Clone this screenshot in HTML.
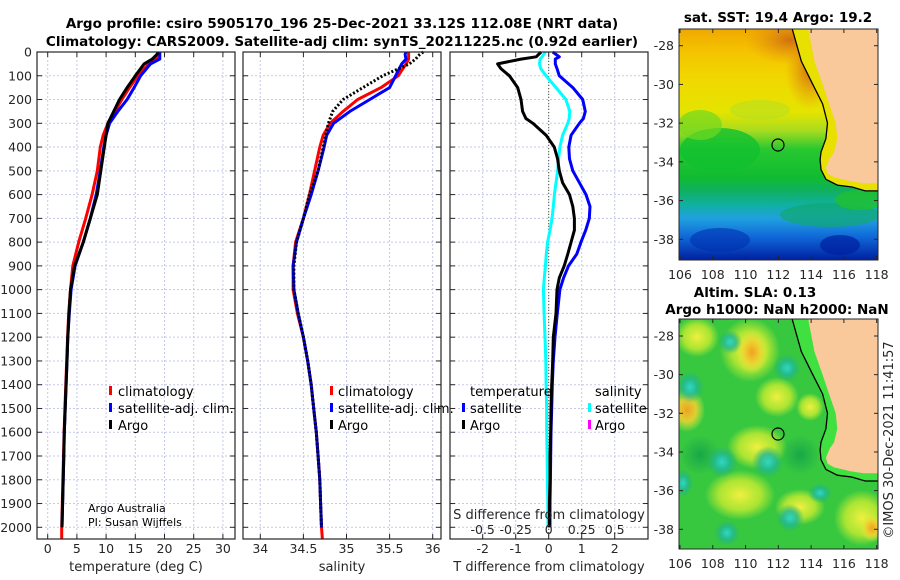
<!DOCTYPE html>
<html><head><meta charset="utf-8"><style>
html,body{margin:0;padding:0;background:#fff;}
svg{display:block;font-family:"DejaVu Sans","Liberation Sans",sans-serif;}
.tk{font-size:12.5px;fill:#262626;}
.tt{font-size:13.5px;font-weight:bold;fill:#000;}
.lg{font-size:13px;fill:#000;}
</style></head><body>
<svg id="fig" width="900" height="580" viewBox="0 0 900 580" xmlns="http://www.w3.org/2000/svg">
<defs>
<linearGradient id="sstg" x1="0" y1="0" x2="0" y2="1">
<stop offset="0" stop-color="#f0a800"/><stop offset="0.1" stop-color="#f4c400"/><stop offset="0.22" stop-color="#f0d800"/>
<stop offset="0.36" stop-color="#e4e400"/><stop offset="0.44" stop-color="#a8dc20"/><stop offset="0.52" stop-color="#28c830"/>
<stop offset="0.64" stop-color="#10bc30"/><stop offset="0.7" stop-color="#10b060"/><stop offset="0.76" stop-color="#10b0a0"/>
<stop offset="0.82" stop-color="#20a0e0"/><stop offset="0.9" stop-color="#1068d8"/><stop offset="1" stop-color="#0020a0"/>
</linearGradient>
<radialGradient id="ylw"><stop offset="0" stop-color="#f0f040"/><stop offset="0.6" stop-color="#c8ec30" stop-opacity="0.8"/><stop offset="1" stop-color="#c8ec30" stop-opacity="0"/></radialGradient>
<radialGradient id="org"><stop offset="0" stop-color="#f0a020"/><stop offset="0.5" stop-color="#f0d030" stop-opacity="0.9"/><stop offset="1" stop-color="#e8f040" stop-opacity="0"/></radialGradient>
<radialGradient id="cyn"><stop offset="0" stop-color="#30d8c8"/><stop offset="0.5" stop-color="#20b898" stop-opacity="0.8"/><stop offset="1" stop-color="#20b070" stop-opacity="0"/></radialGradient>
<radialGradient id="dgr"><stop offset="0" stop-color="#18a848"/><stop offset="1" stop-color="#18a848" stop-opacity="0"/></radialGradient>
<radialGradient id="brn"><stop offset="0" stop-color="#d07010"/><stop offset="1" stop-color="#e89010" stop-opacity="0"/></radialGradient>
<clipPath id="c1"><rect x="679" y="29" width="199" height="231"/></clipPath>
<clipPath id="c2"><rect x="679" y="319" width="199" height="230"/></clipPath>
</defs>
<text class="tt" x="342" y="28" text-anchor="middle">Argo profile: csiro 5905170_196 25-Dec-2021 33.12S 112.08E (NRT data)</text>
<text class="tt" x="342" y="46" text-anchor="middle">Climatology: CARS2009. Satellite-adj clim: synTS_20211225.nc (0.92d earlier)</text>
<g id="grid"></g>
<g id="marks"></g>
<g id="axes"></g>

<g>
<rect x="109" y="386" width="3" height="9" fill="#f00"/><text class="lg" x="118" y="396">climatology</text>
<rect x="109" y="403" width="3" height="9" fill="#00f"/><text class="lg" x="118" y="413">satellite-adj. clim.</text>
<rect x="109" y="420" width="3" height="9" fill="#000"/><text class="lg" x="118" y="430">Argo</text>
</g>
<g>
<rect x="330" y="386" width="3" height="9" fill="#f00"/><text class="lg" x="338" y="396">climatology</text>
<rect x="330" y="403" width="3" height="9" fill="#00f"/><text class="lg" x="338" y="413">satellite-adj. clim.</text>
<rect x="330" y="420" width="3" height="9" fill="#000"/><text class="lg" x="338" y="430">Argo</text>
</g>
<g>
<text class="lg" x="470" y="396">temperature</text>
<rect x="462" y="403" width="3" height="9" fill="#00f"/><text class="lg" x="470" y="413">satellite</text>
<rect x="462" y="420" width="3" height="9" fill="#000"/><text class="lg" x="470" y="430">Argo</text>
<text class="lg" x="595" y="396">salinity</text>
<rect x="588" y="403" width="3" height="9" fill="#0ff"/><text class="lg" x="595" y="413">satellite</text>
<rect x="588" y="420" width="3" height="9" fill="#f0f"/><text class="lg" x="595" y="430">Argo</text>
</g>
<text x="88" y="512" style="font-size:11px">Argo Australia</text>
<text x="88" y="526" style="font-size:11px">PI: Susan Wijffels</text>
<text class="tk" x="136" y="571" text-anchor="middle" style="font-size:13px">temperature (deg C)</text>
<text class="tk" x="342" y="571" text-anchor="middle" style="font-size:13px">salinity</text>
<text class="tk" x="549" y="571" text-anchor="middle" style="font-size:13px">T difference from climatology</text>
<text class="tk" x="549" y="519" text-anchor="middle" style="font-size:13px">S difference from climatology</text>

<g>
<text class="tt" x="778" y="22" text-anchor="middle">sat. SST: 19.4 Argo: 19.2</text>
<g clip-path="url(#c1)">
<rect x="679" y="29" width="199" height="231" fill="url(#sstg)"/>
<ellipse cx="790" cy="40" rx="45" ry="25" fill="url(#brn)"/>
<ellipse cx="810" cy="70" rx="25" ry="40" fill="url(#brn)"/>
<ellipse cx="720" cy="150" rx="40" ry="22" fill="#10c030" opacity="0.8"/>
<ellipse cx="700" cy="125" rx="22" ry="15" fill="#70d820" opacity="0.7"/>
<ellipse cx="760" cy="110" rx="30" ry="10" fill="#b8e020" opacity="0.6"/>
<ellipse cx="830" cy="215" rx="50" ry="12" fill="#10a870" opacity="0.7"/>
<ellipse cx="860" cy="200" rx="25" ry="10" fill="#20c030" opacity="0.8"/>
<ellipse cx="840" cy="245" rx="20" ry="10" fill="#0020a0" opacity="0.7"/>
<ellipse cx="720" cy="240" rx="30" ry="12" fill="#0030b0" opacity="0.6"/>
<path id="shelf1" fill="#e8e000" stroke="none"/>
<path id="land1" fill="#f9c89b"/>
<path id="cont1" fill="none" stroke="#000" stroke-width="1.3"/>
</g>
<circle cx="778" cy="145" r="6" fill="none" stroke="#000" stroke-width="1.2"/>
<g id="mapax1"></g>
</g>

<g>
<text class="tt" x="755" y="297" text-anchor="middle">Altim. SLA: 0.13</text>
<text class="tt" x="777" y="314" text-anchor="middle">Argo h1000: NaN h2000: NaN</text>
<g clip-path="url(#c2)">
<rect x="679" y="319" width="199" height="230" fill="#38c840"/>
<ellipse cx="697" cy="337" rx="22" ry="20" fill="url(#ylw)"/>
<ellipse cx="750" cy="350" rx="30" ry="32" fill="url(#ylw)"/>
<ellipse cx="752" cy="352" rx="16" ry="22" fill="url(#org)"/>
<ellipse cx="687" cy="410" rx="18" ry="22" fill="url(#org)"/>
<ellipse cx="777" cy="397" rx="22" ry="20" fill="url(#ylw)"/>
<ellipse cx="757" cy="447" rx="30" ry="22" fill="url(#ylw)"/>
<ellipse cx="810" cy="407" rx="14" ry="14" fill="url(#ylw)"/>
<ellipse cx="740" cy="495" rx="35" ry="25" fill="url(#ylw)"/>
<ellipse cx="800" cy="507" rx="25" ry="18" fill="url(#ylw)"/>
<ellipse cx="862" cy="518" rx="28" ry="28" fill="url(#ylw)"/>
<ellipse cx="872" cy="528" rx="12" ry="14" fill="url(#org)"/>
<ellipse cx="700" cy="455" rx="20" ry="20" fill="url(#dgr)"/>
<ellipse cx="800" cy="455" rx="20" ry="20" fill="url(#dgr)"/>
<ellipse cx="722" cy="462" rx="16" ry="16" fill="url(#cyn)"/>
<ellipse cx="768" cy="462" rx="16" ry="16" fill="url(#cyn)"/>
<ellipse cx="787" cy="368" rx="14" ry="14" fill="url(#cyn)"/>
<ellipse cx="690" cy="387" rx="14" ry="16" fill="url(#cyn)"/>
<ellipse cx="730" cy="342" rx="12" ry="12" fill="url(#cyn)"/>
<ellipse cx="683" cy="483" rx="10" ry="14" fill="url(#cyn)"/>
<ellipse cx="790" cy="518" rx="14" ry="14" fill="url(#cyn)"/>
<ellipse cx="727" cy="533" rx="13" ry="13" fill="url(#cyn)"/>
<ellipse cx="820" cy="493" rx="12" ry="10" fill="url(#cyn)"/>
<path id="shelf2" fill="#40e040"/>
<path id="land2" fill="#f9c89b"/>
<path id="cont2" fill="none" stroke="#000" stroke-width="1.3"/>
</g>
<circle cx="778" cy="434" r="6" fill="none" stroke="#000" stroke-width="1.2"/>
<g id="mapax2"></g>
</g>
<text class="tk" transform="translate(893,440) rotate(-90)" text-anchor="middle" style="font-size:13px">©IMOS 30-Dec-2021 11:41:57</text>

<script>
const depths = [0,10,30,50,100,150,200,250,300,350,400,500,600,700,800,900,1000,1100,1200,1300,1400,1500,1600,1700,1800,1900,2000,2050];
const tempClim = [19.0,19.0,18.5,17.3,15.4,14.0,12.7,11.5,10.3,9.5,9.0,8.5,7.6,6.5,5.3,4.3,3.9,3.6,3.4,3.25,3.1,2.95,2.8,2.7,2.6,2.5,2.4,2.4];
const tempSat = [19.2,19.2,19.2,17.6,15.9,14.8,13.6,12.0,10.6,10.0,9.6,9.0,8.3,7.3,6.1,4.7,4.0,3.7,3.45,3.3,3.15,3.0,2.85,2.75,2.65,2.55,2.45,null];
const tempArgo = [18.9,18.7,17.9,16.5,15.0,13.6,12.3,11.3,10.3,10.0,9.7,9.1,8.5,7.3,6.1,4.6,3.9,3.65,3.45,3.3,3.15,3.0,2.85,2.75,2.65,2.55,2.45,null];
const salClim = [35.72,35.72,35.72,35.69,35.60,35.40,35.13,34.96,34.81,34.73,34.69,34.63,34.57,34.50,34.41,34.38,34.38,34.43,34.50,34.55,34.59,34.62,34.65,34.67,34.69,34.70,34.71,34.72];
const salSat = [35.69,35.68,35.69,35.64,35.57,35.50,35.27,35.04,34.85,34.77,34.74,34.67,34.59,34.50,34.42,34.38,34.39,34.44,34.50,34.55,34.59,34.62,34.65,34.67,34.69,34.70,34.71,null];
const salArgo = [35.89,35.85,35.80,35.73,35.42,35.19,34.96,34.84,34.79,34.76,34.73,34.67,34.57,34.50,34.42,34.39,34.39,34.44,34.50,34.55,34.59,34.62,34.65,34.67,34.69,34.70,34.71,null];
const diffDepths = [0,20,30,50,70,100,150,200,250,280,300,350,400,450,500,550,600,650,700,750,800,850,900,950,1000,1100,1200,1300,1400,1500,1600,1700,1800,1900,2000];
const tDiffArgo = [-0.23,-0.38,-0.84,-1.55,-1.45,-1.19,-0.94,-0.84,-0.79,-0.69,-0.48,-0.08,0.17,0.27,0.32,0.42,0.63,0.73,0.78,0.78,0.68,0.58,0.47,0.32,0.25,0.22,0.14,0.12,0.09,0.07,0.06,0.04,0.04,0.02,0.02];
const tDiffSat = [0.12,0.32,0.2,0.2,0.25,0.32,0.73,1.03,1.11,1.05,0.93,0.68,0.61,0.63,0.73,0.93,1.13,1.25,1.23,1.12,0.98,0.85,0.6,0.45,0.34,0.26,0.19,0.14,0.11,0.09,0.07,0.06,0.05,0.04,0.04];
const sDiffSat = [-0.025,-0.05,-0.065,-0.07,-0.06,-0.02,0.055,0.13,0.16,0.155,0.145,0.105,0.085,0.075,0.068,0.055,0.043,0.035,0.025,0.01,-0.008,-0.018,-0.025,-0.033,-0.04,-0.035,-0.028,-0.022,-0.02,-0.016,-0.015,-0.012,-0.01,-0.007,-0.005];
const depthTicks = [0,100,200,300,400,500,600,700,800,900,1000,1100,1200,1300,1400,1500,1600,1700,1800,1900,2000];
const tempTicks = [0,5,10,15,20,25,30];
const salTicks = [34,34.5,35,35.5,36];
const salTickLabels = ["34","34.5","35","35.5","36"];
const tDiffTicks = [-2,-1,0,1,2];
const sDiffTicks = [-0.5,-0.25,0,0.25,0.5];
const sDiffTickLabels = ["-0.5","-0.25","0","0.25","0.5"];
const lonTicks = [106,108,110,112,114,116,118];
const latTicks = [-28,-30,-32,-34,-36,-38];

const NS="http://www.w3.org/2000/svg";
const Y0=52, Y1=539;
const yD = d => 52 + d*0.23765;
const xT = t => 47.7 + t*5.84;
const xS = s => 260.3 + (s-34)*86.2;
const xTD = t => 548.7 + t*33;
const xSD = s => 548.7 + s*132;
const panels=[[37,235],[243,441],[450,648]];
function el(tag,attrs,parent){const e=document.createElementNS(NS,tag);for(const k in attrs)e.setAttribute(k,attrs[k]);parent.appendChild(e);return e;}
const grid=document.getElementById('grid'), marks=document.getElementById('marks'), axes=document.getElementById('axes');

function vgrid(xs){xs.forEach(x=>{const l=el('line',{x1:x,x2:x,y1:Y0,y2:Y1,stroke:'#c4c8e8','stroke-width':1,'stroke-dasharray':'2,2'},grid);


el('line',{x1:x,x2:x,y1:Y1,y2:Y1-5,stroke:'#262626'},axes);el('line',{x1:x,x2:x,y1:Y0,y2:Y0+5,stroke:'#262626'},axes);});}
panels.forEach(([a,b])=>{depthTicks.forEach(d=>{const y=yD(d);const l=el('line',{x1:a,x2:b,y1:y,y2:y,stroke:'#c4c8e8','stroke-width':1,'stroke-dasharray':'2,2'},grid);


el('line',{x1:a,x2:a+5,y1:y,y2:y,stroke:'#262626'},axes);el('line',{x1:b,x2:b-5,y1:y,y2:y,stroke:'#262626'},axes);});
const r=el('rect',{x:a,y:Y0,width:b-a,height:Y1-Y0,fill:'none',stroke:'#262626','stroke-width':1.2},axes);

});
vgrid(tempTicks.map(xT)); vgrid(salTicks.map(xS)); vgrid(tDiffTicks.map(xTD));
depthTicks.forEach(d=>{const t=el('text',{x:32,y:yD(d)+4.5,'text-anchor':'end',class:'tk'},axes);t.textContent=d;

});
tempTicks.forEach(v=>{const t=el('text',{x:xT(v),y:553,'text-anchor':'middle',class:'tk'},axes);t.textContent=v;

});
salTicks.forEach((v,i)=>{const t=el('text',{x:xS(v),y:553,'text-anchor':'middle',class:'tk'},axes);t.textContent=salTickLabels[i];

});
tDiffTicks.forEach(v=>{const t=el('text',{x:xTD(v),y:553,'text-anchor':'middle',class:'tk'},axes);t.textContent=v;

});
sDiffTicks.forEach((v,i)=>{const t=el('text',{x:xSD(v),y:534,'text-anchor':'middle',class:'tk'},axes);t.textContent=sDiffTickLabels[i];

});
const z=el('line',{x1:xTD(0),x2:xTD(0),y1:Y0,y2:Y1,stroke:'#4a5a30','stroke-width':1,'stroke-dasharray':'1,2'},grid);



function line(vals,dep,xf,color,name,dash){let d='';let pen=false;vals.forEach((v,i)=>{if(v===null){pen=false;return;}d+=(pen?'L':'M')+xf(v).toFixed(1)+','+yD(dep[i]).toFixed(1);pen=true;});
const p=el('path',{d:d,fill:'none',stroke:color,'stroke-width':3,'stroke-linejoin':'round'},marks);if(dash)p.setAttribute('stroke-dasharray',dash);

}
line(tempClim,depths,xT,'#f00','temperature-climatology-line');
line(tempSat,depths,xT,'#00f','temperature-satellite-line');
line(tempArgo,depths,xT,'#000','temperature-argo-line');
line(salClim,depths,xS,'#f00','salinity-climatology-line');
line(salSat,depths,xS,'#00f','salinity-satellite-line');
line(salArgo,depths,xS,'#000','salinity-argo-line','2,2');
line(sDiffSat,diffDepths,xSD,'#0ff','s-difference-satellite-line');
line(tDiffSat,diffDepths,xTD,'#00f','t-difference-satellite-line');
line(tDiffArgo,diffDepths,xTD,'#000','t-difference-argo-line');

const lx = lon => 680 + (lon-106)*16.39;
const coastLon=[113.8,114.2,114.7,115.1,115.5,115.6,115.4,115.15,114.9,115.0,115.4,116.4,117.2,118.2];
const coastLat=[-27.0,-28.8,-30.0,-31.0,-32.0,-32.8,-33.5,-33.8,-34.3,-34.6,-34.8,-35.0,-35.1,-35.1];
const contLon=[112.8,113.4,114.1,114.7,115.0,114.9,114.6,114.55,114.6,114.9,115.6,116.5,117.3,118.2];
const contLat=[-27.0,-28.8,-30.0,-31.0,-32.0,-32.8,-33.5,-33.9,-34.4,-34.9,-35.2,-35.3,-35.5,-35.5];
function drawMap(k,ly,top,bot){
 const c=coastLon.map((lo,i)=>lx(lo).toFixed(1)+','+ly(coastLat[i]).toFixed(1));
 const t=contLon.map((lo,i)=>lx(lo).toFixed(1)+','+ly(contLat[i]).toFixed(1));
 document.getElementById('land'+k).setAttribute('d','M'+c.join('L')+'L890,'+ly(-35.1)+'L890,'+(top-5)+'Z');
 document.getElementById('cont'+k).setAttribute('d','M'+t.join('L'));
 document.getElementById('shelf'+k).setAttribute('d','M'+t.join('L')+'L890,'+ly(-35.6)+'L890,'+(top-5)+'Z');
 const ax=document.getElementById('mapax'+k);
 el('rect',{x:679,y:top,width:199,height:bot-top,fill:'none',stroke:'#262626','stroke-width':1},ax);
 lonTicks.forEach(lo=>{const x=lx(lo);el('line',{x1:x,x2:x,y1:bot,y2:bot-4,stroke:'#262626'},ax);el('line',{x1:x,x2:x,y1:top,y2:top+4,stroke:'#262626'},ax);
  const tx=el('text',{x:x,y:bot+19,'text-anchor':'middle',class:'tk'},ax);tx.textContent=lo;
  
  });
 latTicks.forEach(la=>{const y=ly(la);el('line',{x1:679,x2:683,y1:y,y2:y,stroke:'#262626'},ax);el('line',{x1:878,x2:874,y1:y,y2:y,stroke:'#262626'},ax);
  const tx=el('text',{x:674,y:y+4.5,'text-anchor':'end',class:'tk'},ax);tx.textContent=la;
  
  });
}
drawMap(1,la=>45.7+(-28-la)*19.36,29,260);
drawMap(2,la=>336+(-28-la)*19.33,319,549);
</script>
</svg>
</body></html>
